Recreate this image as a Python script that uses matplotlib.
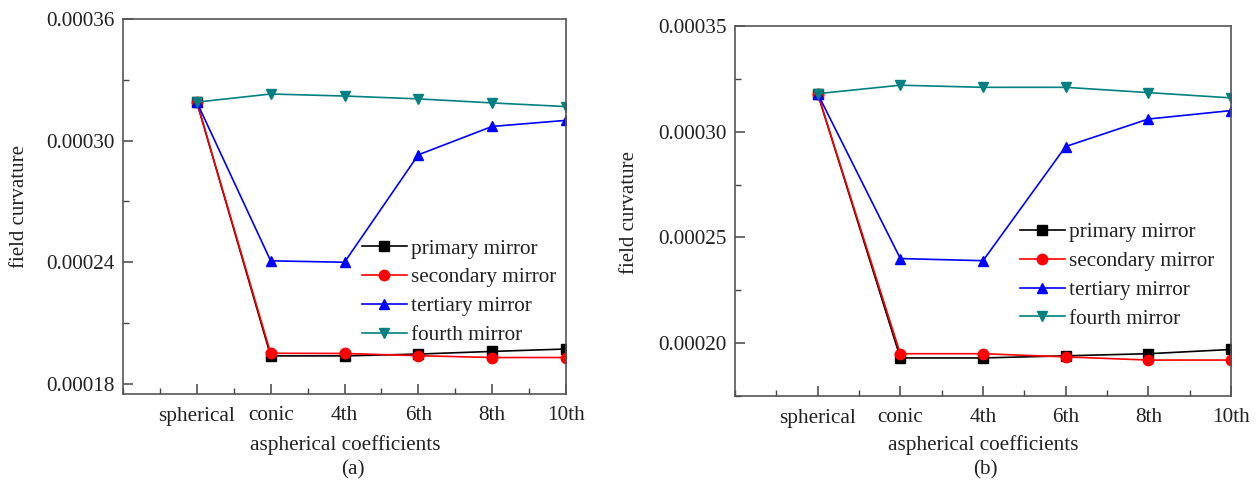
import numpy as np
import matplotlib
matplotlib.use('Agg')
import matplotlib.pyplot as plt
from matplotlib.ticker import MultipleLocator, FormatStrFormatter

plt.rcParams['font.family'] = ['Liberation Serif', 'DejaVu Serif']
plt.rcParams['font.size'] = 15

# categories on the x axis
coeffs = ['spherical', 'conic', '4th', '6th', '8th', '10th']

# panel (a)
primary_a = [0.000319, 0.0001938, 0.0001938, 0.0001947, 0.000196, 0.0001972]
secondary_a = [0.000319, 0.0001951, 0.000195, 0.0001939, 0.000193, 0.000193]
tertiary_a = [0.000319, 0.0002407, 0.00024, 0.000293, 0.000307, 0.00031]
fourth_a = [0.000319, 0.000323, 0.000322, 0.0003206, 0.0003186, 0.0003168]

# panel (b)
primary_b = [0.000318, 0.000193, 0.000193, 0.000194, 0.000195, 0.000197]
secondary_b = [0.000318, 0.000195, 0.000195, 0.0001935, 0.000192, 0.000192]
tertiary_b = [0.000318, 0.00024, 0.000239, 0.000293, 0.000306, 0.00031]
fourth_b = [0.000318, 0.000322, 0.000321, 0.000321, 0.0003185, 0.000316]

names = ['primary mirror', 'secondary mirror', 'tertiary mirror', 'fourth mirror']
colors = ['black', '#ff0000', '#0000ff', '#008080']
markers = ['s', 'o', '^', 'v']

txt = '#222222'

fig = plt.figure(figsize=(12.57, 4.83), dpi=100)
W, H = 1257.0, 483.0


def make_panel(rect, series, ylim, ystep, leg_xy):
    ax = fig.add_axes(rect)
    x = np.arange(len(coeffs))
    for vals, name, c, m in zip(series, names, colors, markers):
        ax.plot(x, vals, color=c, marker=m, markersize=7.5, lw=1.2, label=name)
    ax.set_xlim(-1, len(coeffs) - 1)
    ax.set_ylim(*ylim)
    ax.set_xticks(x)
    ax.set_xticklabels(coeffs)
    ax.xaxis.set_minor_locator(MultipleLocator(0.5))
    ax.yaxis.set_major_locator(MultipleLocator(ystep))
    ax.yaxis.set_minor_locator(MultipleLocator(ystep / 2))
    ax.yaxis.set_major_formatter(FormatStrFormatter('%.5f'))
    ax.tick_params(which='both', direction='in', colors='#444444', labelcolor=txt, labelsize=15.3)
    ax.tick_params(which='major', length=7, width=1.1)
    ax.tick_params(which='minor', length=4, width=1.0)
    ax.tick_params(axis='x', which='major', pad=9)
    ax.tick_params(axis='y', which='major', pad=6)
    for s in ax.spines.values():
        s.set_color('#555555')
        s.set_linewidth(1.2)
    leg = ax.legend(loc='upper left', bbox_to_anchor=leg_xy, frameon=False,
                    handlelength=2.1, handletextpad=0.2, labelspacing=0.42,
                    borderpad=0, borderaxespad=0, fontsize=15.3)
    for t in leg.get_texts():
        t.set_color(txt)
    return ax


# (a)
ax1 = make_panel([123 / W, 1 - 394 / H, (566 - 123) / W, (394 - 19) / H],
                 [primary_a, secondary_a, tertiary_a, fourth_a],
                 (0.000175, 0.00036), 0.00006, (0.5395, 0.414))
fig.text(19.5 / W, 1 - 206 / H, 'field curvature', rotation=90, ha='center', va='center', color=txt, fontsize=15)
fig.text(345 / W, 1 - 445 / H, 'aspherical coefficients', ha='center', va='center', color=txt, fontsize=15.3)
fig.text(353 / W, 1 - 470 / H, '(a)', ha='center', va='center', color=txt, fontsize=15.3)

# (b)
ax2 = make_panel([735 / W, 1 - 396 / H, (1231 - 735) / W, (396 - 26) / H],
                 [primary_b, secondary_b, tertiary_b, fourth_b],
                 (0.000175, 0.00035), 0.00005, (0.5746, 0.469))
fig.text(630 / W, 1 - 212 / H, 'field curvature', rotation=90, ha='center', va='center', color=txt, fontsize=15)
fig.text(983 / W, 1 - 445 / H, 'aspherical coefficients', ha='center', va='center', color=txt, fontsize=15.3)
fig.text(985 / W, 1 - 470 / H, '(b)', ha='center', va='center', color=txt, fontsize=15.3)

fig.savefig('out.png', dpi=100)
